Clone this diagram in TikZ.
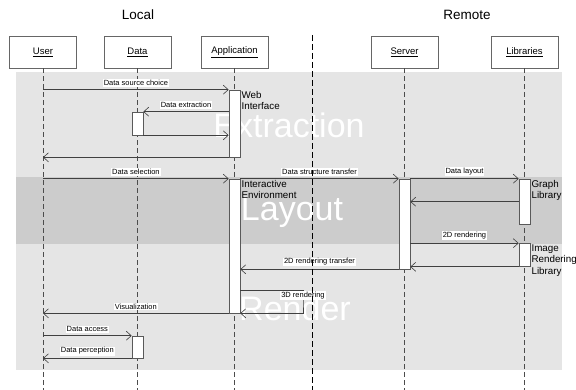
\documentclass[tikz,border=0pt]{standalone}
\usepackage{fontspec}
\setmainfont{Liberation Sans}
\usetikzlibrary{arrows.meta, positioning, calc}

\begin{document}
\begin{tikzpicture}[x=1pt, y=-1pt, line width=0.6pt,
    >={Straight Barb[length=5pt, width=9pt]},
    actor/.style={draw=black!60, fill=white, minimum width=67pt, minimum height=32pt, inner sep=0pt, font=\fontsize{9.5}{11}\selectfont},
    lifeline/.style={draw=black!70, dash pattern=on 5pt off 3pt},
    bar/.style={draw=black!65, fill=white, minimum width=11pt, inner sep=0pt},
    barlabel/.style={anchor=north west, align=left, inner sep=1pt, font=\fontsize{9.8}{11.5}\selectfont},
    msg/.style={->, draw=black!75},
    msglabel/.style={fill=white, inner sep=1pt, font=\fontsize{7.5}{9}\selectfont, above=2.5pt},
    looplabel/.style={msglabel, below=0pt},
    phase/.style={white, anchor=base, inner sep=0pt, font=\fontsize{34}{40}\selectfont}]
  \useasboundingbox (0,0) rectangle (576,390);

  % phases
  \fill[black!10] (16,72) rectangle (562,177);
  \fill[black!20] (16,177) rectangle (562,244);
  \fill[black!10] (16,244) rectangle (562,370);
  \node[phase] (extraction) at (289,138) {Extraction};
  \node[phase] (layout) at (292,221) {Layout};
  \node[phase] (render) at (295,320) {Render};

  \node[font=\fontsize{13.5}{16}\selectfont] (local) at (138,15) {Local};
  \node[font=\fontsize{13.5}{16}\selectfont] (remote) at (467,15) {Remote};

  % actors
  \node[actor] (user) at (43,52) {\underline{User}};
  \node[actor] (data) at (137.5,52) {\underline{Data}};
  \node[actor] (app) at (234.5,52) {\underline{Application}};
  \node[actor] (server) at (404.5,52) {\underline{Server}};
  \node[actor] (libs) at (524.5,52) {\underline{Libraries}};
  \coordinate (splittop) at (312,35);
  \coordinate (splitbottom) at (312,390);

  \foreach \n in {user,data,app,server,libs}
    \draw[lifeline] (\n.south) -- (\n.south |- splitbottom);

  % activations
  \node[bar, minimum height=67pt] (webbar) at (234.5,123.5) {};
  \node[bar, minimum height=23pt] (databar1) at (137.5,123.5) {};
  \node[bar, minimum height=134pt] (envbar) at (234.5,246) {};
  \node[bar, minimum height=90pt] (serverbar) at (404.5,224) {};
  \node[bar, minimum height=45pt] (graphbar) at (524.5,201.5) {};
  \node[bar, minimum height=23pt] (imagebar) at (524.5,255) {};
  \node[bar, minimum height=22pt] (databar2) at (137.5,347) {};

  \node[barlabel] (weblabel) at (webbar.north east) {Web\\Interface};
  \node[barlabel] (envlabel) at (envbar.north east) {Interactive\\Environment};
  \node[barlabel] (graphlabel) at (graphbar.north east) {Graph\\Library};
  \node[barlabel] (imagelabel) at (imagebar.north east) {Image\\Rendering\\Library};

  % messages
  \draw[msg] (user.south |- webbar.north west) -- node[msglabel] {Data source choice} (webbar.north west);
  \draw[msg] (webbar.west |- databar1.north east) -- node[msglabel] {Data extraction} (databar1.north east);
  \draw[msg] (databar1.south east) -- (webbar.west |- databar1.south east);
  \draw[msg] (webbar.south west) -- (user.south |- webbar.south west);
  \draw[msg] (user.south |- envbar.north west) -- node[msglabel] {Data selection} (envbar.north west);
  \draw[msg] (envbar.north east) -- node[msglabel] {Data structure transfer} (serverbar.north west);
  \draw[msg] (serverbar.north east) -- node[msglabel] {Data layout} (graphbar.north west);
  \draw[msg] ([yshift=-23pt]graphbar.north west) coordinate (graphback) -- (serverbar.east |- graphback);
  \draw[msg] (serverbar.east |- imagebar.north west) -- node[msglabel] {2D rendering} (imagebar.north west);
  \draw[msg] (imagebar.south west) -- (serverbar.east |- imagebar.south west);
  \draw[msg] (serverbar.south west) -- node[msglabel] {2D rendering transfer} (envbar.east |- serverbar.south west);
  \coordinate (loopturn) at (303,302);
  \draw[msg] ([yshift=-112pt]envbar.north east) -| node[looplabel, pos=0.5] {3D rendering} (loopturn) |- (envbar.south east);
  \draw[msg] (envbar.south west) -- node[msglabel] {Visualization} (user.south |- envbar.south west);
  \draw[msg] (user.south |- databar2.north west) -- node[msglabel] {Data access} (databar2.north west);
  \draw[msg] (databar2.south west) -- node[msglabel] {Data perception} (user.south |- databar2.south west);

  % local / remote split
  \draw[black, dash pattern=on 6pt off 3pt, line width=0.8pt] (splittop) -- (splitbottom);
\end{tikzpicture}
\end{document}
